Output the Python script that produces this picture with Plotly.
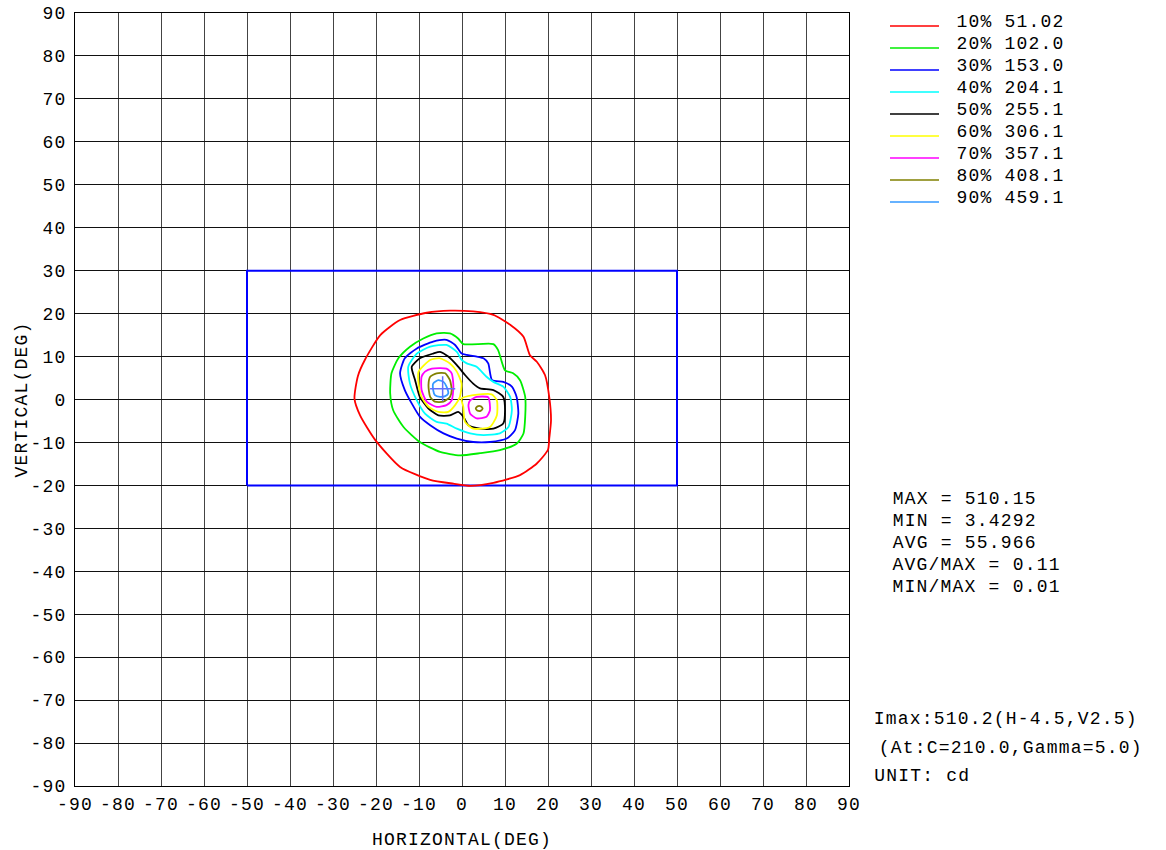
import plotly.graph_objects as go

# ---------------- data ----------------
levels_pct = ["10%", "20%", "30%", "40%", "50%", "60%", "70%", "80%", "90%"]
levels_cd = ["51.02", "102.0", "153.0", "204.1", "255.1", "306.1", "357.1", "408.1", "459.1"]
level_colors = ["#ff0000", "#00ee00", "#0000ff", "#00ffff", "#000000",
                "#ffff00", "#ff00ff", "#808000", "#3399ff"]

# contour lines (H, V in degrees); None separates loops
c10_h = [-25, -24.2, -22.6, -19.0, -14.4, -8.2, -2.8, 2.6, 7.3, 11.2, 14.3, 15.8, 17.4, 19.3, 20.3, 20.7, 20.3, 20.0, 17.4, 13.5, 7.3, 1.9, -2, -7.4, -14.4, -20.2, -23.7, -25]
c10_v = [0.2, 5.5, 9.2, 15.0, 18.5, 20.2, 20.7, 20.5, 19.7, 17.4, 14.6, 10.3, 8.8, 5.7, 0.5, -4.9, -9.0, -11.7, -14.9, -17.6, -19.4, -20.1, -19.6, -18.7, -15.7, -9.4, -3.7, 0.2]

c20_h = [-5.9, -2.8, -0.9, 0.3, 7.3, 8.4, 10.0, 11.9, 13.5, 14.7, 14.7, 14.3, 12.7, 8.8, 4.2, -0.5, -5.1, -9.8, -13.6, -16.0, -16.7, -16.4, -14.8, -12.1, -9.0, -5.9]
c20_v = [15.4, 15.4, 14.2, 12.9, 12.9, 11.5, 6.8, 6.1, 4.5, 0.6, -4.0, -7.9, -10.3, -11.8, -12.5, -13.0, -12.2, -9.9, -6.4, -2.5, 1.4, 6.1, 9.6, 12.3, 14.2, 15.4]

c30_h = [-6.7, -3.6, -1.6, -0.1, 1.1, 5.0, 6.1, 7.0, 9.6, 11.6, 12.7, 13.1, 12.3, 10.4, 6.5, 2.6, -1.2, -4.3, -7.4, -9.8, -11.7, -13.3, -14.4, -13.3, -10.5, -6.7]
c30_v = [13.5, 13.9, 12.7, 10.7, 10.4, 9.6, 8.4, 4.5, 4.1, 3.0, 0.6, -3.3, -7.2, -9.1, -9.9, -9.9, -9.1, -7.9, -6.0, -4.0, -0.9, 2.2, 6.1, 9.6, 11.9, 13.5]

c40_h = [-7.4, -3.6, -1.2, -0.1, 1.1, 3.4, 5.7, 7.3, 9.6, 11.2, 11.6, 10.8, 8.8, 5.0, 1.9, -1.2, -3.6, -5.9, -8.6, -10.5, -12.1, -12.5, -10.5, -7.4]
c40_v = [12.3, 12.7, 11.1, 9.2, 8.4, 7.6, 5.3, 4.1, 3.0, 0.6, -2.5, -6.4, -7.9, -8.3, -7.9, -6.8, -5.6, -5.2, -3.3, -0.2, 3.7, 7.6, 10.7, 12.3]

c50_h = [-6.7, -5.1, -3.2, -1.2, 0.7, 2.6, 4.2, 7.3, 9.6, 10.0, 9.6, 7.3, 4.2, 1.5, 0.3, -0.9, -2.8, -5.5, -7.8, -9.8, -10.9, -11.7, -9.8, -6.7]
c50_v = [10.7, 11.1, 10.0, 8.0, 5.7, 3.7, 2.6, 2.2, 0.6, -2.5, -5.6, -6.8, -6.8, -6.0, -4.0, -2.9, -3.7, -3.7, -2.1, 0.6, 4.5, 7.6, 9.6, 10.7]

c60_h = [-7.4, -5.1, -2.8, -1.2, -0.1, -0.5, -1.6, -3.2, -5.5, -7.8, -9.4, -10.1, -10.1, -7.4, None,
         -0.1, 2.6, 6.9, 8.1, 8.1, 6.5, 2.6, 0.7, 0.3, -0.1]
c60_v = [9.2, 9.6, 8.4, 6.5, 3.7, 0.6, -1.3, -2.9, -2.9, -1.7, 0.6, 3.7, 6.5, 9.2, None,
         0.2, 1.0, 1.2, -0.2, -3.7, -6.4, -6.8, -5.2, -1.7, 0.2]

c70_h = [-8.6, -7.0, -3.6, -2.4, -2.0, -2.4, -3.6, -5.9, -8.2, -9.4, -9.4, -8.6, None,
         1.9, 3.4, 6.1, 6.5, 5.7, 3.4, 1.9, 1.5, 1.9]
c70_v = [6.5, 7.2, 7.2, 6.1, 3.0, -0.2, -1.3, -1.7, -0.5, 2.2, 5.3, 6.5, None,
         -0.2, 0.6, 0.5, -2.5, -4.0, -4.4, -3.3, -1.3, -0.2]

c80_h = [-7.4, -5.9, -3.9, -2.8, -2.4, -2.8, -4.3, -6.3, -7.4, -7.8, -7.4, None,
         3.2, 3.6, 4.4, 4.8, 4.4, 3.6, 3.2]
c80_v = [5.3, 6.1, 6.1, 4.5, 2.2, 0.6, -0.5, -0.5, 0.6, 3.3, 5.3, None,
         -2.1, -1.6, -1.6, -2.1, -2.6, -2.6, -2.1]

c90_h = [-6.7, -5.5, -4.3, -3.6, -3.2, -3.9, -5.1, -6.3, -6.7, -6.7]
c90_v = [3.7, 4.5, 4.1, 3.0, 1.4, 0.8, 0.6, 1.0, 2.2, 3.7]

contours_h = [c10_h, c20_h, c30_h, c40_h, c50_h, c60_h, c70_h, c80_h, c90_h]
contours_v = [c10_v, c20_v, c30_v, c40_v, c50_v, c60_v, c70_v, c80_v, c90_v]

# measuring screen rectangle
rect_h = [-50, 50, 50, -50, -50]
rect_v = [-20, -20, 30, 30, -20]

# maximum point
imax_h = [-4.5]
imax_v = [2.5]

stats_lines = ["MAX = 510.15", "MIN = 3.4292", "AVG = 55.966", "AVG/MAX = 0.11", "MIN/MAX = 0.01"]
info_lines = ["Imax:510.2(H-4.5,V2.5)", "(At:C=210.0,Gamma=5.0)", "UNIT: cd"]

tick_vals = list(range(-90, 91, 10))
tick_text = [str(t) for t in tick_vals]

# ---------------- figure ----------------
FONT = "Liberation Mono, Courier New, monospace"
LS = 1.2  # letter spacing (px) applied to all svg text
W, H = 1166, 850
ML, MT = 75, 13
PW, PH = 774, 773
MR = W - ML - PW
MB = H - MT - PH


def px_x(px):
    return (px - ML) / PW


def px_y(py):
    return (MT + PH - py) / PH


def text_x(px, s):
    # annotations are centred in their box; letter spacing widens them symmetrically
    return px_x(px + 0.5 * LS * len(s))


fig = go.Figure()

fig.add_trace(go.Scatter(x=rect_h, y=rect_v, mode="lines",
                         line=dict(color="#0000ff", width=2), hoverinfo="skip",
                         showlegend=False))

for i in range(len(levels_pct)):
    fig.add_trace(go.Scatter(
        x=contours_h[i], y=contours_v[i], mode="lines",
        line=dict(color=level_colors[i], width=1.8, shape="spline", smoothing=0.6),
        name=f"{levels_pct[i]} {levels_cd[i]}", showlegend=False, connectgaps=False))

fig.add_trace(go.Scatter(x=imax_h, y=imax_v, mode="markers",
                         marker=dict(symbol="cross-thin-open", size=18,
                                     line=dict(color="#ff0000", width=1.5)),
                         showlegend=False))

shapes = []
annotations = []
# legend
for i in range(len(levels_pct)):
    ty = 22 + 22 * i
    label = f"{levels_pct[i]} {levels_cd[i]}"
    shapes.append(dict(type="line", xref="paper", yref="paper",
                       x0=px_x(890), x1=px_x(939), y0=px_y(ty + 4), y1=px_y(ty + 4),
                       line=dict(color=level_colors[i], width=1.5)))
    annotations.append(dict(xref="paper", yref="paper", x=text_x(955, label), y=px_y(ty),
                            xanchor="left", yanchor="middle", showarrow=False,
                            text=label,
                            font=dict(family=FONT, size=18, color="#000")))
# stats
for i, s in enumerate(stats_lines):
    ty = 499 + 22 * i
    annotations.append(dict(xref="paper", yref="paper", x=text_x(891, s), y=px_y(ty),
                            xanchor="left", yanchor="middle", showarrow=False, text=s,
                            font=dict(family=FONT, size=18, color="#000")))
# info
info_x = [872, 877, 872]
info_y = [719, 748, 776]
for i, s in enumerate(info_lines):
    annotations.append(dict(xref="paper", yref="paper", x=text_x(info_x[i], s), y=px_y(info_y[i]),
                            xanchor="left", yanchor="middle", showarrow=False, text=s,
                            font=dict(family=FONT, size=18, color="#000")))

axis_common = dict(range=[-90, 90], tickmode="array", tickvals=tick_vals, ticktext=tick_text,
                   showgrid=True, gridwidth=1, zeroline=False, showline=True,
                   linecolor="#000", linewidth=1, mirror=True, ticks="",
                   tickfont=dict(family=FONT, size=18, color="#000"), fixedrange=True,
                   automargin=False)

fig.update_layout(
    width=W, height=H,
    margin=dict(l=ML, r=MR, t=MT, b=MB, pad=0, autoexpand=False),
    paper_bgcolor="#fff", plot_bgcolor="#fff",
    xaxis=dict(**axis_common, gridcolor="#444",
               title=dict(text="HORIZONTAL(DEG)", standoff=18,
                          font=dict(family=FONT, size=18, color="#000")),
               ticklabelstandoff=1),
    yaxis=dict(**axis_common, gridcolor="#111",
               title=dict(text="VERTICAL(DEG)", standoff=1,
                          font=dict(family=FONT, size=18, color="#000")),
               ticklabelstandoff=4),
    shapes=shapes, annotations=annotations,
    showlegend=False,
)

post = """
document.body.style.margin = '0';
document.querySelectorAll('svg text').forEach(function (t) { t.style.letterSpacing = '%spx'; });
""" % LS

fig.write_html("out.html", config={"displayModeBar": False}, post_script=post)
